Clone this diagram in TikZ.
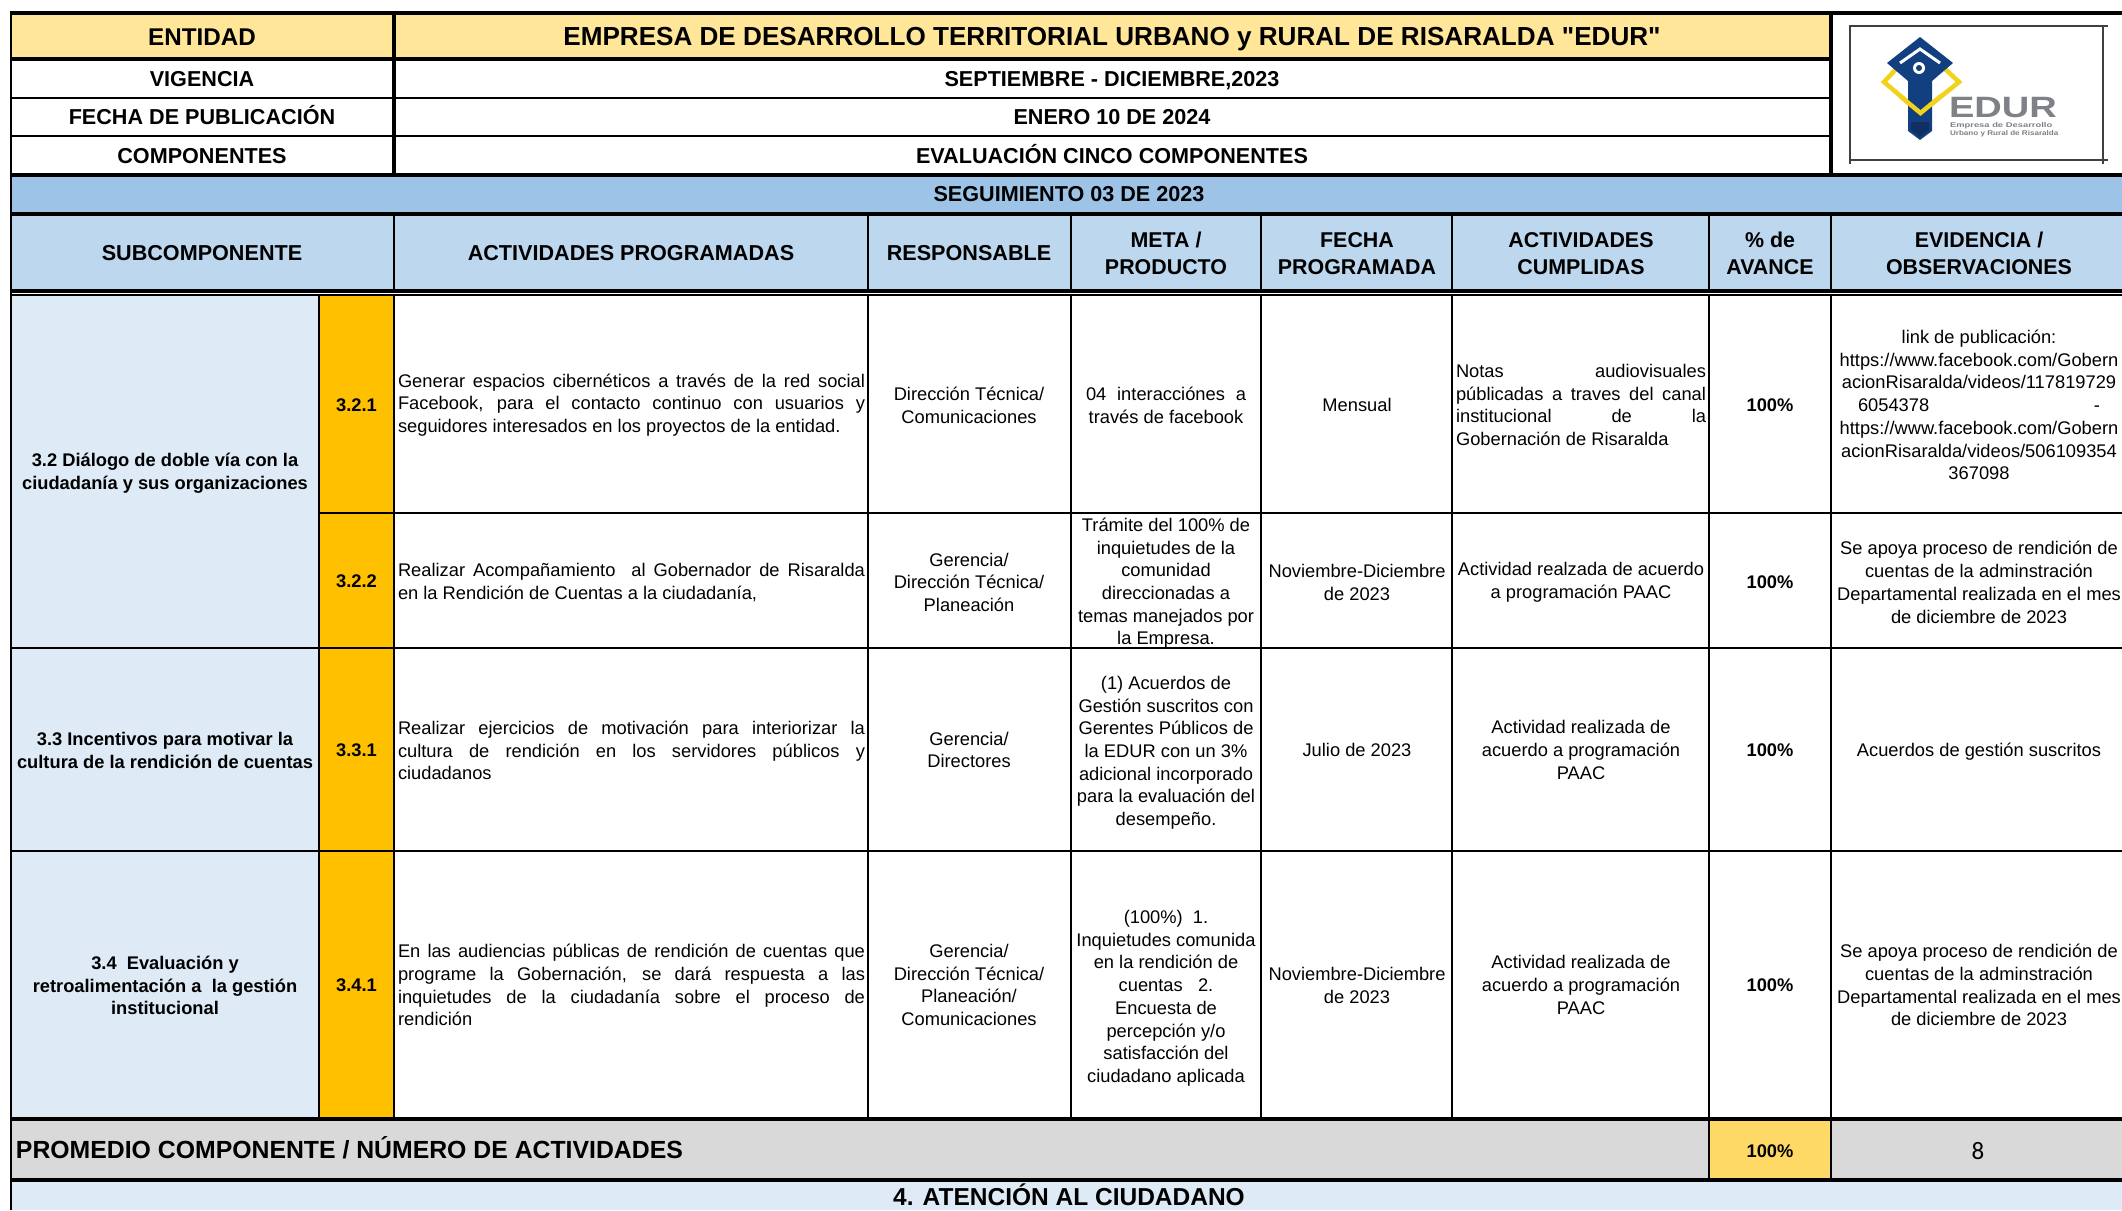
\documentclass[tikz,border=0pt]{standalone}
\usepackage{fontspec}
\setmainfont{Liberation Sans}
\newfontfamily\qfont{Liberation Sans}
\newfontfamily\calib{Carlito}
\definecolor{cYel}{HTML}{FFE699}
\definecolor{cBand}{HTML}{9DC3E6}
\definecolor{cHead}{HTML}{BDD7EE}
\definecolor{cLight}{HTML}{DEEAF6}
\definecolor{cOra}{HTML}{FFC000}
\definecolor{cGray}{HTML}{D9D9D9}
\definecolor{cGold}{HTML}{FFD966}
\definecolor{cLogoB}{HTML}{123F7F}
\definecolor{cLogoD}{HTML}{0F2F63}
\definecolor{cLogoY}{HTML}{F2D21B}
\definecolor{cLogoG}{HTML}{7E8286}
\tolerance=10000 \hbadness=10000 \hfuzz=20pt
\tikzset{
 x=1pt,y=-1pt,
 txt/.style={inner sep=0pt,outer sep=0pt,align=center,text=black},
 body/.style={txt,font=\fontsize{18.3}{22.7}\selectfont},
 bodyb/.style={txt,font=\fontsize{18.3}{22.7}\selectfont\bfseries},
 one/.style={text height=15pt,text depth=2pt},
 just/.style={body,align=justify,text width=#1},
 head/.style={txt,font=\fontsize{21.4}{27}\selectfont\bfseries},
 lab/.style={txt,text height=17pt,text depth=1.5pt,font=\fontsize{21.6}{27}\selectfont\bfseries},
 big/.style={txt,text height=20pt,text depth=1.5pt,font=\fontsize{#1}{27}\selectfont\bfseries},
 thickln/.style={line width=3.2pt,black},
 midln/.style={line width=2.4pt,black},
 thinln/.style={line width=2pt,black},
}
\begin{document}
\begin{tikzpicture}
\useasboundingbox (0,0) rectangle (2122,1210);
\fill[white] (0,0) rectangle (2122,1210);
% fills
\fill[cYel] (11,13) rectangle (1831,59);
\fill[cBand] (11,175) rectangle (2122,214);
\fill[cHead] (11,214) rectangle (2122,291);
\fill[cLight] (11,295) rectangle (319,1119);
\fill[cOra] (319,295) rectangle (394,1119);
\fill[cGray] (11,1119) rectangle (2122,1180);
\fill[cGold] (1709,1119) rectangle (1831,1180);
\fill[cLight] (11,1180) rectangle (2122,1210);
% horizontal rules
\draw[thickln] (9.5,13) -- (2122,13);
\draw[thickln] (11,59) -- (1831,59);
\draw[midln] (11,98) -- (1831,98);
\draw[midln] (11,136) -- (1831,136);
\draw[thickln] (9.5,175) -- (2122,175);
\draw[thickln] (11,214) -- (2122,214);
\draw[thickln] (11,291) -- (2122,291);
\draw[midln] (11,295) -- (2122,295);
\draw[thinln] (319,513) -- (2122,513);
\draw[thinln] (11,648) -- (2122,648);
\draw[thinln] (11,851) -- (2122,851);
\draw[thickln] (11,1119) -- (2122,1119);
\draw[thickln] (11,1180) -- (2122,1180);
% vertical rules
\draw[midln] (11,12) -- (11,1210);
\draw[thickln] (394,13) -- (394,175);
\draw[thickln] (1831,13) -- (1831,175);
\draw[thinln] (394,214) -- (394,291);
\draw[thinln] (394,295) -- (394,1119);
\draw[thinln] (319,295) -- (319,1119);
\foreach \xx in {867.5,1071,1261,1452,1709,1831}{
  \draw[thinln] (\xx,214) -- (\xx,291);
  \draw[thinln] (\xx,295) -- (\xx,1119);
}
\draw[thinln] (1709,1119) -- (1709,1180);
\draw[thinln] (1831,1119) -- (1831,1180);
% logo
\draw[line width=1.3pt,black!75] (1850,164) -- (1850,26) -- (2108,26);
\draw[line width=1.3pt,black!75] (2103,26) -- (2103,164);
\draw[line width=1.3pt,black!75] (1850,160) -- (2108,160);
\draw[cLogoY,line width=4.5pt,line join=miter] (1897,68) -- (1884,82) -- (1920.5,113) -- (1959,82) -- (1944,68);
\fill[cLogoB] (1908,75) -- (1932,75) -- (1932,131) -- (1920,140) -- (1908,131) -- cycle;
\fill[cLogoD] (1911,122) -- (1929,122) -- (1929,130) -- (1920,137) -- (1911,130) -- cycle;
\draw[cLogoY,line width=4.5pt,line join=miter] (1900,96) -- (1920.5,113) -- (1941,96);
\fill[cLogoB] (1920,37) -- (1953,63) -- (1932,81) -- (1908,81) -- (1887,63) -- cycle;
\draw[white,line width=3pt] (1900,63) -- (1920,49) -- (1940,63);
\fill[white] (1919,68) circle (6);
\fill[cLogoB] (1919,68) circle (3);
\node[txt,text=cLogoG,font=\fontsize{28}{28}\selectfont\bfseries] (logoname) at (2003,108) {\scalebox{1.36}[1.05]{EDUR}};
\node[txt,text=cLogoG,anchor=west,font=\fontsize{6.8}{8}\selectfont\bfseries] (logosuba) at (1950,126) {\scalebox{1.38}[1]{Empresa de Desarrollo}};
\node[txt,text=cLogoG,anchor=west,font=\fontsize{6.8}{8}\selectfont\bfseries] (logosubb) at (1950,134) {\scalebox{1.19}[1]{Urbano y Rural de Risaralda}};
% top block
\node[big=24.2] (entidad) at (202,36) {ENTIDAD};
\node[big=26.1] (empresa) at (1112,36) {EMPRESA DE DESARROLLO TERRITORIAL URBANO y RURAL DE RISARALDA {\qfont "EDUR"}};
\node[lab] (vigencia) at (202,78.5) {VIGENCIA};
\node[lab] (vigval) at (1112,78.5) {SEPTIEMBRE - DICIEMBRE,2023};
\node[lab] (fecha) at (202,116.5) {FECHA DE PUBLICACIÓN};
\node[lab] (fechaval) at (1112,116.5) {ENERO 10 DE 2024};
\node[lab] (comp) at (202,155.5) {COMPONENTES};
\node[lab] (compval) at (1112,155.5) {EVALUACIÓN CINCO COMPONENTES};
\node[lab] (seg) at (1069,194) {SEGUIMIENTO 03 DE 2023};
% headers
\node[lab] (h1) at (202,253) {SUBCOMPONENTE};
\node[lab] (h2) at (631,253) {ACTIVIDADES PROGRAMADAS};
\node[lab] (h3) at (969,253) {RESPONSABLE};
\node[head] (h4) at (1166,253.5) {META /\\PRODUCTO};
\node[head] (h5) at (1357,253.5) {FECHA\\PROGRAMADA};
\node[head] (h6) at (1581,253.5) {ACTIVIDADES\\CUMPLIDAS};
\node[head] (h7) at (1770,253.5) {\% de\\AVANCE};
\node[head] (h8) at (1979,253.5) {EVIDENCIA /\\OBSERVACIONES};
% subcomponents
\node[bodyb] (s32) at (165,473.5) {3.2 Diálogo de doble vía con la\\ciudadanía y sus organizaciones};
\node[bodyb] (s33) at (165,750.5) {3.3 Incentivos para motivar la\\cultura de la rendición de cuentas};
\node[bodyb] (s34) at (165,985.5) {3.4~ Evaluación y\\retroalimentación a~ la gestión\\institucional};
\node[bodyb,one] (n321) at (356.5,405) {3.2.1};
\node[bodyb,one] (n322) at (356.5,581) {3.2.2};
\node[bodyb,one] (n331) at (356.5,750) {3.3.1};
\node[bodyb,one] (n341) at (356.5,985) {3.4.1};
% activities
\node[just=467pt] (a1) at (631.5,405) {Generar espacios cibernéticos a través de la red social\linebreak Facebook, para el contacto continuo con usuarios y\linebreak seguidores interesados en los proyectos de la entidad.};
\node[just=467pt] (a2) at (631.5,582.3) {Realizar Acompañamiento~ al Gobernador de Risaralda\linebreak en la Rendición de Cuentas a la ciudadanía,};
\node[just=467pt] (a3) at (631.5,750.5) {Realizar ejercicios de motivación para interiorizar la\linebreak cultura de rendición en los servidores públicos y\linebreak ciudadanos};
\node[just=467pt] (a4) at (631.5,985) {En las audiencias públicas de rendición de cuentas que\linebreak programe la Gobernación, se dará respuesta a las\linebreak inquietudes de la ciudadanía sobre el proceso de\linebreak rendición};
% responsable
\node[body] (r1) at (969,405) {Dirección Técnica/\\Comunicaciones};
\node[body] (r2) at (969,582.3) {Gerencia/\\Dirección Técnica/\\Planeación};
\node[body] (r3) at (969,750) {Gerencia/\\Directores};
\node[body] (r4) at (969,985) {Gerencia/\\Dirección Técnica/\\Planeación/\\Comunicaciones};
% meta
\node[body] (m1) at (1166,405) {\hbox to 160pt{04\hfill interacciónes\hfill a}\\través de facebook};
\node[body] (m2) at (1166,583.3) {Trámite del 100\% de\\inquietudes de la\\comunidad\\direccionadas a\\temas manejados por\\la Empresa.};
\node[body] (m3) at (1166,752.7) {(1) Acuerdos de\\Gestión suscritos con\\Gerentes Públicos de\\la EDUR con un 3\%\\adicional incorporado\\para la evaluación del\\desempeño.};
\node[body] (m4) at (1166,998.3) {(100\%)~ 1.\\Inquietudes comunida\\en la rendición de\\cuentas~~ 2.\\Encuesta de\\percepción y/o\\satisfacción del\\ciudadano aplicada};
% fecha
\node[body,one] (f1) at (1357,405) {Mensual};
\node[body] (f2) at (1357,582.3) {Noviembre-Diciembre\\de 2023};
\node[body,one] (f3) at (1357,750) {Julio de 2023};
\node[body] (f4) at (1357,985.5) {Noviembre-Diciembre\\de 2023};
% cumplidas
\node[just=250pt] (c1) at (1581,405) {Notas audiovisuales\linebreak públicadas a traves del canal\linebreak institucional de la\linebreak Gobernación de Risaralda};
\node[body] (c2) at (1581,582.3) {Actividad realzada de acuerdo\\a programación PAAC};
\node[body] (c3) at (1581,750) {Actividad realizada de\\acuerdo a programación\\PAAC};
\node[body] (c4) at (1581,985) {Actividad realizada de\\acuerdo a programación\\PAAC};
% avance
\node[bodyb,one] (p1) at (1770,405) {100\%};
\node[bodyb,one] (p2) at (1770,581.5) {100\%};
\node[bodyb,one] (p3) at (1770,750) {100\%};
\node[bodyb,one] (p4) at (1770,985) {100\%};
% evidencia
\node[body] (e1) at (1979,405) {link de publicación:\\https://www.facebook.com/Gobern\\acionRisaralda/videos/117819729\\\hbox to 242pt{6054378\hfill -}\\https://www.facebook.com/Gobern\\acionRisaralda/videos/506109354\\367098};
\node[body] (e2) at (1979,582.3) {Se apoya proceso de rendición de\\cuentas de la adminstración\\Departamental realizada en el mes\\de diciembre de 2023};
\node[body,one] (e3) at (1979,750) {Acuerdos de gestión suscritos};
\node[body] (e4) at (1979,985) {Se apoya proceso de rendición de\\cuentas de la adminstración\\Departamental realizada en el mes\\de diciembre de 2023};
% footer
\node[big=24.8,anchor=west] (prom) at (16,1149.5) {PROMEDIO COMPONENTE / NÚMERO DE ACTIVIDADES};
\node[bodyb,one] (pp) at (1770,1150.5) {100\%};
\node[txt,font=\fontsize{25}{27}\selectfont\calib] (cnt) at (1978,1151) {8};
\node[big=24.5] (aten) at (1069,1196) {4. ATENCIÓN AL CIUDADANO};
\end{tikzpicture}
\end{document}
